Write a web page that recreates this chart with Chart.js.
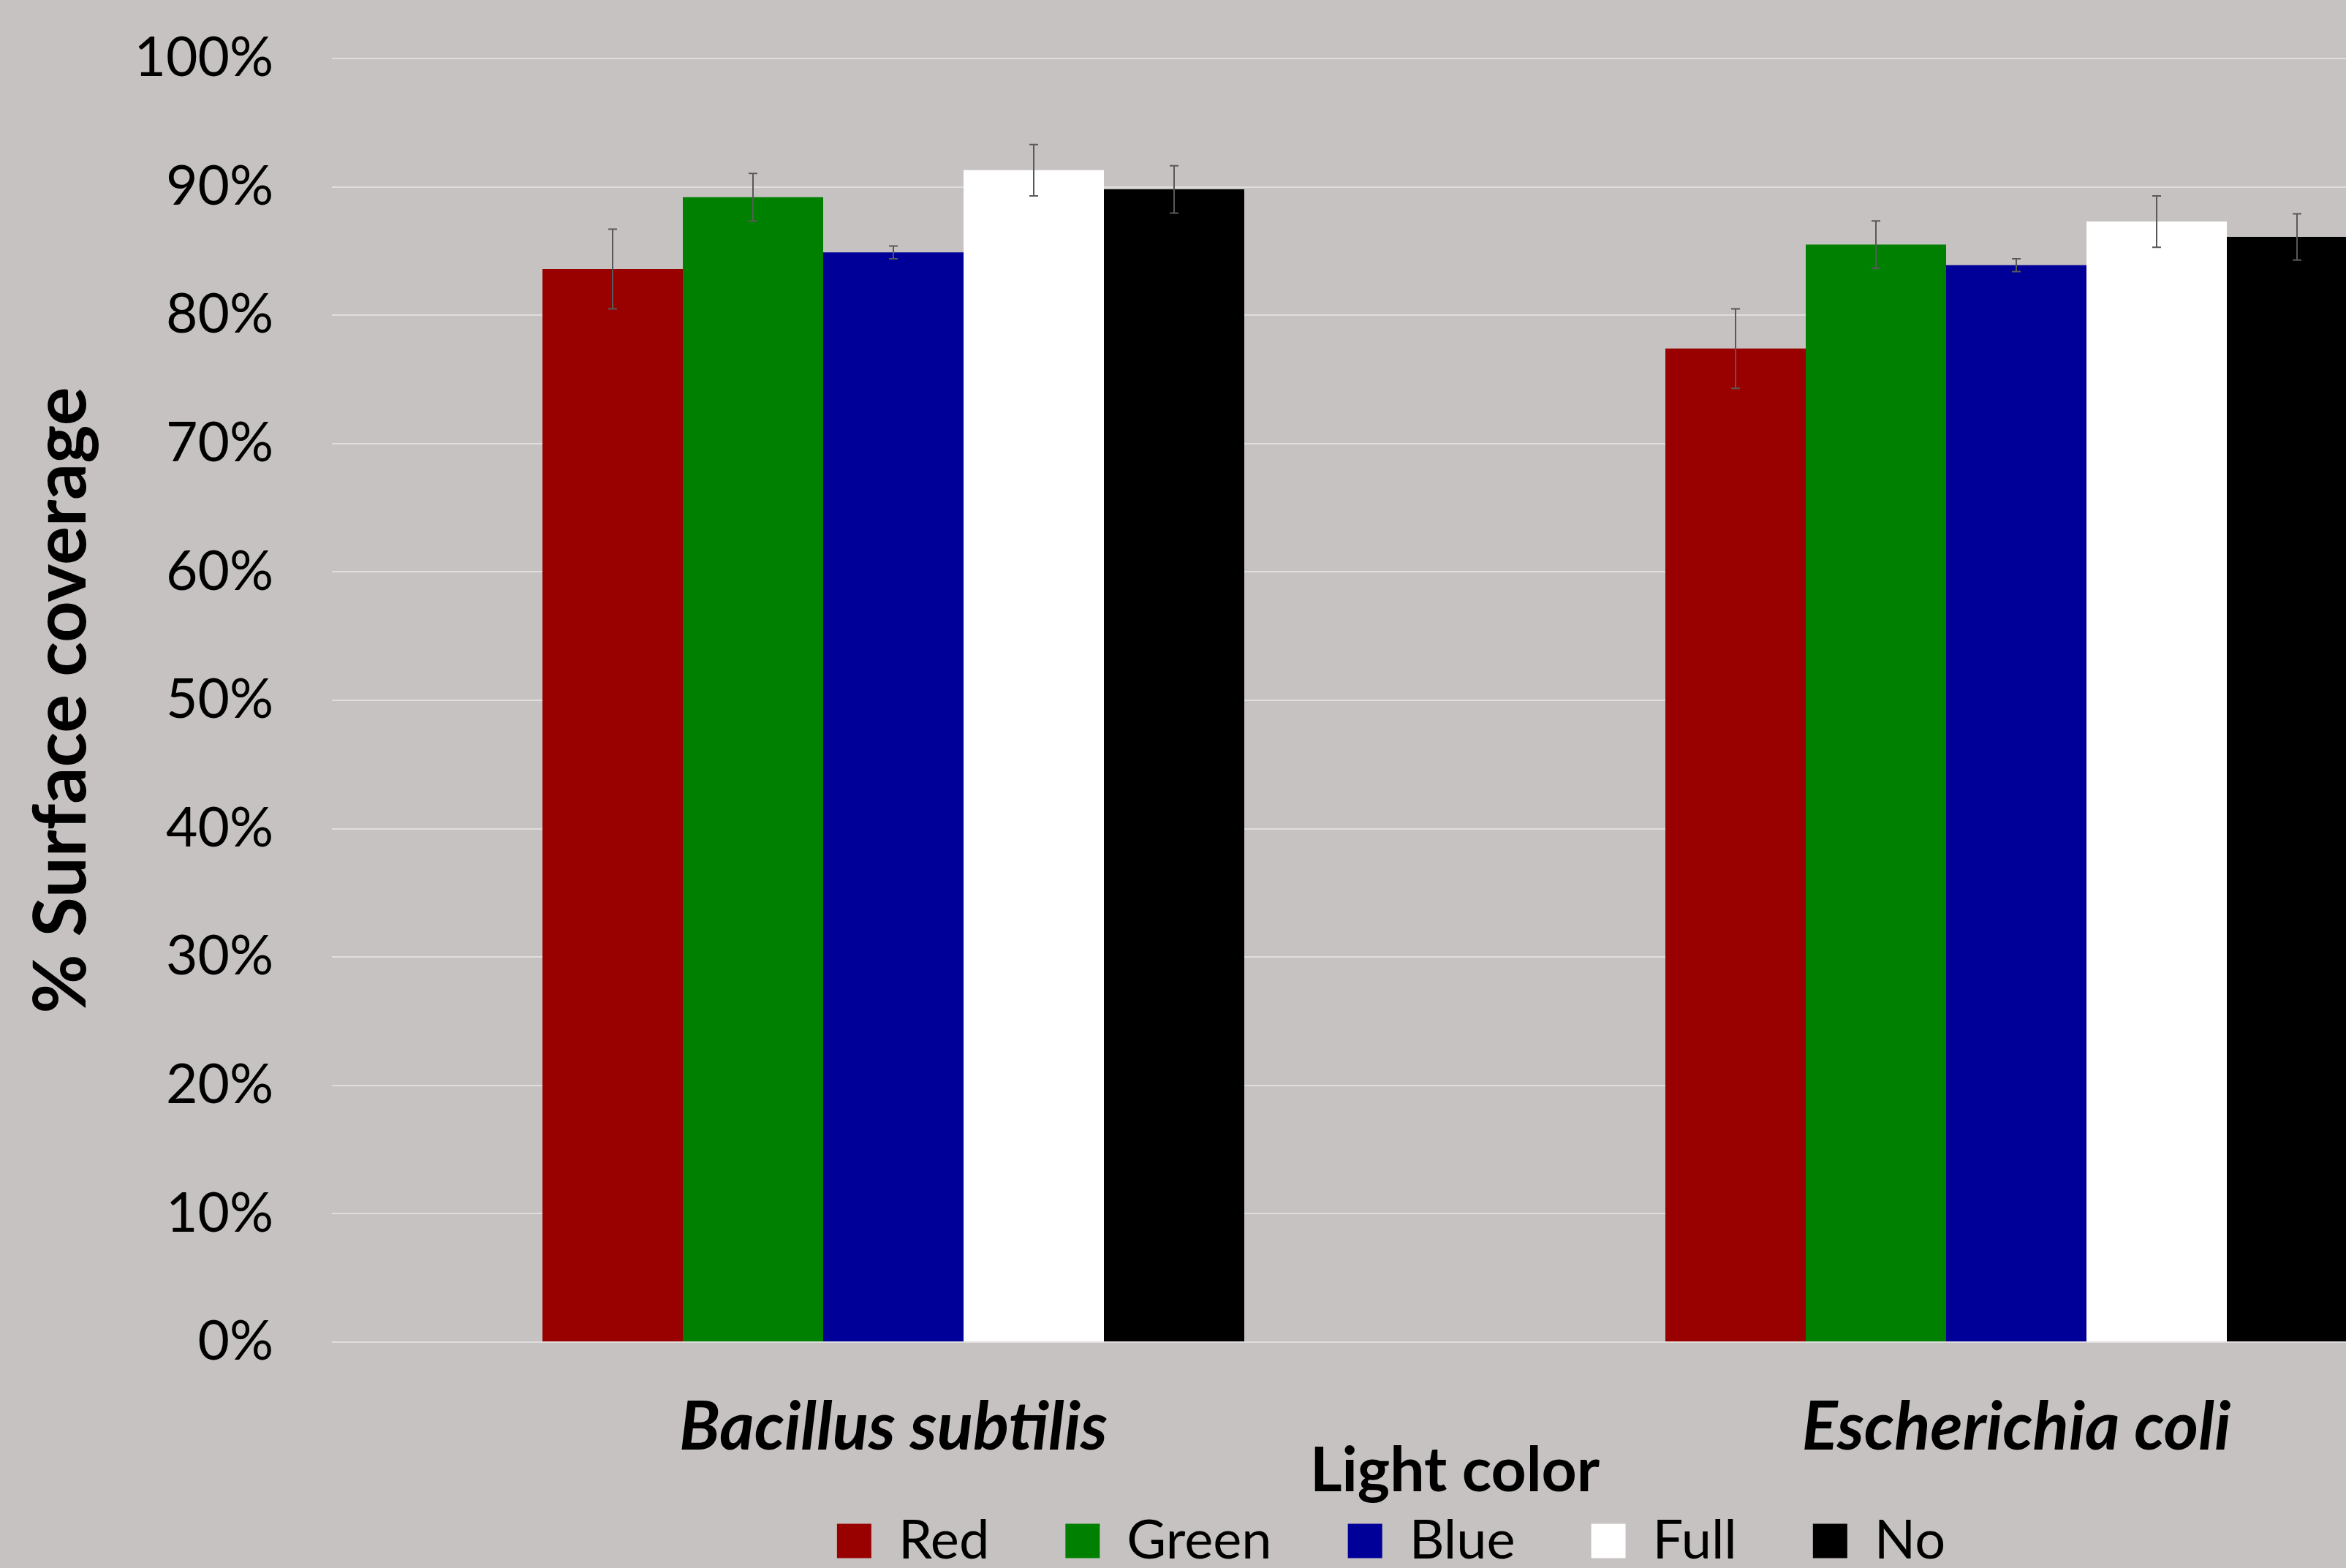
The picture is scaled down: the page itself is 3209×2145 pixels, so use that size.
<!DOCTYPE html>
<html>
<head>
<meta charset="utf-8">
<script src="https://cdn.jsdelivr.net/npm/chart.js@4"></script>
<style>
  body { margin: 0; overflow: hidden; background: #c6c2c1; }
  #wrap { position: absolute; left: 0; top: 0; width: 3806px; height: 2155px; }
</style>
</head>
<body>
<div id="wrap"><canvas id="coverage"></canvas></div>
<script>
// categories on the x axis
var categories = ['Bacillus subtilis', 'Escherichia coli'];

// light colours (legend)
var lightNames = ['Red', 'Green', 'Blue', 'Full', 'No'];
var lightColors = ['#990000', '#008000', '#000099', '#ffffff', '#000000'];

// % surface coverage per light colour, one value per category
var redValues = [83.6, 77.4];
var greenValues = [89.2, 85.5];
var blueValues = [84.9, 83.9];
var fullValues = [91.3, 87.3];
var noValues = [89.8, 86.1];

// error bar half-lengths, same order
var redErrors = [3.1, 3.1];
var greenErrors = [1.85, 1.85];
var blueErrors = [0.5, 0.5];
var fullErrors = [2.0, 2.0];
var noErrors = [1.85, 1.8];

var yTicks = [0, 10, 20, 30, 40, 50, 60, 70, 80, 90, 100];

var allValues = [redValues, greenValues, blueValues, fullValues, noValues];
var allErrors = [redErrors, greenErrors, blueErrors, fullErrors, noErrors];

Chart.defaults.font.family = 'Lato';
Chart.defaults.color = '#000';

// draws the error bars on top of the bars, using the y scale
var errorBars = {
    id: 'errorBars',
    afterDatasetsDraw: function (chart) {
        var ctx = chart.ctx;
        var y = chart.scales.y;
        ctx.save();
        ctx.strokeStyle = '#595959';
        ctx.lineWidth = 2;
        chart.data.datasets.forEach(function (ds, i) {
            var meta = chart.getDatasetMeta(i);
            meta.data.forEach(function (bar, j) {
                var v = ds.data[j];
                var e = ds.errors[j];
                var top = y.getPixelForValue(v + e);
                var bottom = y.getPixelForValue(v - e);
                ctx.beginPath();
                ctx.moveTo(bar.x, top);
                ctx.lineTo(bar.x, bottom);
                ctx.moveTo(bar.x - 6, top);
                ctx.lineTo(bar.x + 6, top);
                ctx.moveTo(bar.x - 6, bottom);
                ctx.lineTo(bar.x + 6, bottom);
                ctx.stroke();
            });
        });
        ctx.restore();
    }
};

var datasets = [];
for (var i = 0; i < lightNames.length; i++) {
    datasets.push({
        label: lightNames[i],
        data: allValues[i],
        errors: allErrors[i],
        backgroundColor: lightColors[i],
        borderWidth: 0,
        categoryPercentage: 0.625,
        barPercentage: 1.0
    });
}

var chart = new Chart(document.getElementById('coverage').getContext('2d'), {
    type: 'bar',
    data: {
        labels: categories,
        datasets: datasets
    },
    options: {
        responsive: true,
        maintainAspectRatio: false,
        animation: false,
        layout: { padding: { top: 80, left: 0, right: 0, bottom: 0 } },
        plugins: {
            tooltip: { enabled: false },
            legend: {
                position: 'bottom',
                labels: {
                    font: { size: 74 },
                    boxWidth: 47,
                    boxHeight: 47,
                    padding: 104
                }
            }
        },
        scales: {
            x: {
                grid: { display: false, drawTicks: false },
                border: { display: false },
                // mirrored with a negative padding so the labels sit below the
                // (short) axis box without being clipped by it
                ticks: {
                    mirror: true,
                    padding: -172,
                    font: { size: 91, weight: 'bold', style: 'italic', lineHeight: 1.2 }
                },
                title: {
                    display: true,
                    text: 'Light color',
                    font: { size: 84, weight: 'bold', lineHeight: 1.0 },
                    padding: { top: 0, bottom: -88 }
                },
                afterFit: function (s) { s.height = 131; }
            },
            y: {
                min: 0,
                max: 100,
                afterBuildTicks: function (s) {
                    s.ticks = yTicks.map(function (v) { return { value: v }; });
                },
                grid: {
                    color: 'rgba(255,255,255,0.45)',
                    lineWidth: 2,
                    drawTicks: true,
                    tickLength: 80,
                    tickColor: 'rgba(0,0,0,0)'
                },
                border: { display: false },
                ticks: {
                    padding: 0,
                    font: { size: 75 },
                    callback: function (v) { return v + '%'; }
                },
                title: {
                    display: true,
                    text: '% Surface coverage',
                    font: { size: 99, weight: 'bold', lineHeight: 1.0 },
                    padding: { top: 36, bottom: 0 }
                },
                afterFit: function (s) { s.width = 454; }
            },
            // spacer on the right so the plot runs off the page like the original
            y2: {
                position: 'right',
                grid: { display: false },
                border: { display: false },
                ticks: { display: false },
                afterFit: function (s) { s.width = 280; }
            }
        }
    },
    plugins: [errorBars]
});
</script>
</body>
</html>
